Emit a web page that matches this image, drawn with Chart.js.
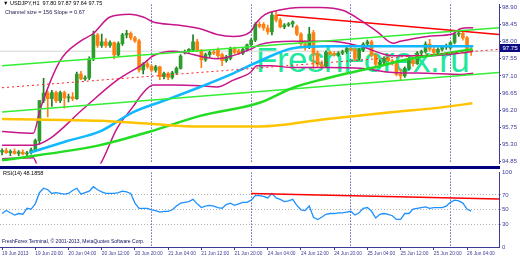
<!DOCTYPE html>
<html>
<head>
<meta charset="utf-8">
<script src="https://cdn.jsdelivr.net/npm/chart.js@4.4.0/dist/chart.umd.min.js"></script>
<style>
  html, body { margin: 0; padding: 0; background: #fff; }
  #wrap { position: relative; width: 520px; height: 260px; overflow: hidden; font-family: 'Liberation Sans', Arial, sans-serif; }
  canvas { position: absolute; left: 0; }
  #priceChart { top: 0; }
  #rsiChart { top: 168px; }
  .txt { position: absolute; white-space: nowrap; line-height: 1; color: #000; }
  #mark { position: absolute; left: 256px; top: 42px; font-size: 35px; color: #1de89c; white-space: nowrap; line-height: 1; letter-spacing: -0.5px; }
  #sep { position: absolute; left: 0; top: 166px; width: 500px; height: 3px; background: #00007f; }
  #pricebox { position: absolute; left: 500px; top: 44px; width: 20px; height: 8px; background: #0a0a80; color: #fff; font-size: 6px; line-height: 8px; text-align: center; }
</style>
</head>
<body>
<div id="wrap">
  <div id="mark">FreshForex.ru</div>
  <canvas id="priceChart" width="520" height="168"></canvas>
  <canvas id="rsiChart" width="520" height="92"></canvas>
  <div id="sep"></div>
  <div id="pricebox">97.75</div>
  <div class="txt" style="left:3px;top:1px;font-size:5.5px;">&#9660; USDJPY,H1&nbsp; 97.80 97.87 97.64 97.75</div>
  <div class="txt" style="left:5px;top:10px;font-size:5.5px;color:#202050;">Channel size = 156 Slope = 0.67</div>
  <div class="txt" style="left:3px;top:171px;font-size:5.5px;">RSI(14) 48.1858</div>
  <div class="txt" style="left:2px;top:239px;font-size:5px;color:#101060;">FreshForex Terminal, &copy; 2001-2013, MetaQuotes Software Corp.</div>
</div>
<script>
// H1 candles, bar 0 = 19 Jun 12:00
const opens = [95.10,95.14,95.08,95.12,95.06,95.10,95.05,95.08,95.16,95.40,
  96.45,96.65,96.50,96.66,96.45,96.66,96.52,96.55,96.50,97.15,
  97.02,97.05,97.55,98.18,97.90,98.00,97.90,97.98,97.65,97.95,
  98.18,98.22,98.10,98.02,97.26,97.42,97.35,97.25,97.34,97.08,
  97.16,97.06,97.18,97.30,97.72,97.75,97.78,98.00,97.76,97.52,
  97.66,97.72,97.80,97.66,97.50,97.56,97.82,97.76,97.70,97.80,
  97.92,98.04,98.46,98.46,98.36,98.26,98.70,98.57,98.39,98.44,
  98.47,98.40,98.20,97.94,97.86,98.24,97.70,97.40,97.36,97.72,
  97.68,97.66,97.70,97.74,97.82,97.80,97.56,97.78,97.94,98.00,
  97.64,97.40,97.46,97.56,97.50,97.42,97.14,97.10,97.30,97.52,
  97.42,97.70,97.74,97.94,97.80,97.72,97.80,97.86,97.84,97.98,
  98.20,98.22,98.10,97.80];
const highs = [95.18,95.20,95.16,95.18,95.14,95.16,95.12,95.20,95.44,96.45,
  97.04,96.70,96.72,96.70,96.70,96.70,96.62,96.66,97.20,97.22,
  97.10,97.60,98.28,98.22,98.20,98.08,98.02,98.00,98.00,98.22,
  98.30,98.26,98.14,98.06,97.45,97.48,97.40,97.38,97.36,97.20,
  97.20,97.22,97.34,97.66,97.78,97.82,98.18,98.06,97.80,97.70,
  97.76,97.80,97.84,97.70,97.64,97.86,97.86,97.80,97.84,97.94,
  98.08,98.50,98.52,98.50,98.44,98.77,98.80,98.62,98.48,98.50,
  98.55,98.44,98.24,98.02,98.38,98.30,97.76,97.50,97.76,97.76,
  97.74,97.74,97.78,97.86,97.86,97.84,97.82,97.98,98.04,98.04,
  97.70,97.52,97.60,97.66,97.54,97.46,97.28,97.34,97.58,97.58,
  97.74,97.78,98.00,98.06,97.86,97.84,97.90,97.94,98.00,98.24,
  98.30,98.26,98.14,97.87];
const lows = [95.02,95.06,95.00,95.04,95.00,95.02,94.98,95.04,95.12,95.30,
  96.40,96.02,96.30,96.40,96.40,96.25,96.42,96.45,96.48,97.00,
  96.98,97.00,97.50,97.85,97.85,97.85,97.85,97.55,97.62,97.90,
  98.10,98.05,97.98,97.20,97.15,97.30,97.20,97.20,97.00,97.02,
  97.00,97.02,97.14,97.28,97.68,97.72,97.74,97.74,97.32,97.48,
  97.60,97.66,97.58,97.37,97.46,97.52,97.68,97.66,97.66,97.76,
  97.88,98.00,98.36,98.30,98.20,98.18,98.52,98.36,98.34,98.40,
  98.38,98.16,97.83,97.78,97.82,97.30,97.34,97.30,97.32,97.64,
  97.62,97.62,97.66,97.70,97.76,97.50,97.52,97.74,97.86,97.60,
  97.34,97.34,97.42,97.46,97.38,97.10,96.98,97.06,97.26,97.36,
  97.40,97.64,97.70,97.76,97.68,97.68,97.76,97.80,97.80,97.94,
  98.14,98.04,97.80,97.64];
const closes = [95.14,95.08,95.12,95.06,95.10,95.05,95.08,95.16,95.40,96.45,
  96.65,96.50,96.66,96.45,96.66,96.52,96.55,96.50,97.15,97.02,
  97.05,97.55,98.18,97.90,98.00,97.90,97.98,97.65,97.95,98.18,
  98.22,98.10,98.02,97.26,97.42,97.35,97.25,97.34,97.08,97.16,
  97.06,97.18,97.30,97.62,97.75,97.80,98.00,97.76,97.52,97.66,
  97.72,97.70,97.63,97.50,97.60,97.82,97.72,97.70,97.80,97.92,
  98.04,98.46,98.40,98.36,98.26,98.70,98.57,98.39,98.44,98.47,
  98.52,98.20,97.94,97.84,98.20,97.70,97.40,97.36,97.72,97.68,
  97.66,97.70,97.74,97.82,97.80,97.56,97.78,97.94,98.00,97.64,
  97.40,97.46,97.56,97.50,97.42,97.14,97.10,97.30,97.52,97.42,
  97.70,97.74,97.94,97.80,97.72,97.80,97.86,97.90,97.98,98.20,
  98.22,98.10,97.82,97.75];

// RSI(14), one value per bar
const rsi = [45,49,46,43,45,44,52,51,58,73,79,77,72,73,72,71,72,76,79,71,
  73,75,81,77,74,72,72,72,73,75,74,72,59,52,52,52,50,49,47,48,
  48,50,55,59,60,61,64,58,53,55,56,55,53,52,57,59,56,58,60,60,
  63,69,69,68,66,72,66,64,61,62,64,56,50,49,55,40,37,40,44,45,
  45,46,46,47,48,43,46,52,53,48,39,44,45,44,42,37,37,45,45,51,
  52,53,54,52,53,53,53,55,60,63,62,59,51,48.19];

// indicator lines: [bar, price]
const bbUpper = [[0,95.64],[7.5,95.59],[9.2,96.23],[14,97.50],[18.8,98.01],[21.9,98.21],[26,98.65],[30.8,98.72],[34,98.65],[36.4,98.52],[42.2,98.44],[47.7,98.34],[51.8,98.19],[55.7,98.14],[59.8,98.26],[61.4,98.52],[63.4,98.72],[66.3,98.82],[71.8,98.90],[76.6,98.90],[82.2,98.82],[86.3,98.57],[90.4,98.26],[94.2,97.96],[95.9,98.01],[102.4,98.14],[108.7,98.21],[110.4,98.34],[113.5,98.37]];
const bbMiddle = [[0,95.28],[7.5,95.28],[11.6,95.46],[19.5,96.23],[27.7,96.99],[34,97.42],[36.4,97.63],[41.2,97.75],[51.8,97.55],[59.8,97.80],[62.2,97.93],[70.1,98.01],[79,98.01],[86.3,97.88],[94.2,97.63],[102.4,97.63],[110.4,97.70],[113.5,97.75]];
const bbLower = [[0,94.92],[7.5,94.95],[9.5,94.40],[16,93.90],[23.6,94.77],[27.7,95.72],[31.6,96.30],[34,96.66],[36.4,96.86],[41.2,96.86],[47.7,96.84],[51.8,96.81],[55.7,96.99],[59.8,97.19],[61.4,97.37],[64.6,97.37],[70.1,97.32],[78.3,97.32],[86.3,97.30],[94.2,97.19],[102.4,97.17],[110.4,97.14],[113.5,97.17]];
const maBlue = [[6.7,95.08],[15.7,95.39],[23.6,95.64],[31.6,96.15],[39.8,96.48],[47.7,96.81],[55.7,97.17],[62.2,97.50],[70.1,97.83],[78.3,97.88],[86.3,97.88],[102.4,97.88],[113.5,97.88]];
const maYellow = [[0,95.97],[23.6,95.92],[35.7,95.84],[47.7,95.77],[62.2,95.77],[78.3,95.97],[94.2,96.15],[106.3,96.28],[113.3,96.38]];
const maGreen = [[0,94.88],[23.6,95.28],[35.7,95.64],[47.7,96.05],[62.2,96.40],[70.1,96.79],[78.3,97.04],[88.7,97.30],[98.3,97.55],[107.2,97.70],[113.3,97.80]];
const channelTop = [[0,97.37],[119.8,98.37]];
const channelBottom = [[0,96.15],[119.8,97.19]];
const resistance = [[66.3,98.70],[119.8,98.19]];
const dottedLevel = [[0,96.79],[119.8,97.80]];
const lastPrice = [[-0.5,97.75],[119.8,97.75]];
const rsiTrend = [[60,72],[119.8,64.5]];

const priceTicks = [98.90, 98.45, 98.00, 97.55, 97.10, 96.65, 96.20, 95.75, 95.30, 94.85];
const rsiTicks = [100, 70, 50, 30, 0];
const separatorBars = [36, 60, 84, 108];
const timeTickBars = [0, 8, 16, 24, 32, 40, 48, 56, 64, 72, 80, 88, 96, 104, 112];
const timeLabels = ['19 Jun 2013', '19 Jun 20:00', '20 Jun 04:00', '20 Jun 12:00', '20 Jun 20:00',
  '21 Jun 04:00', '21 Jun 12:00', '21 Jun 20:00', '24 Jun 04:00', '24 Jun 12:00',
  '24 Jun 20:00', '25 Jun 04:00', '25 Jun 12:00', '25 Jun 20:00', '26 Jun 04:00'];

const axisColor = '#3c3c96';
const fontFamily = "'Liberation Sans', Arial, sans-serif";
const xMin = -0.5, xMax = 119.7;

const pts = arr => arr.map(p => ({x: p[0], y: p[1]}));
const candleColor = i => closes[i] >= opens[i] ? '#2c9c2c' : '#ff8010';
const wickColor = i => closes[i] >= opens[i] ? '#1f7a1f' : '#ff8010';

function lineSet(data, color, width, extra) {
    return Object.assign({
        type: 'line',
        data: pts(data),
        borderColor: color,
        borderWidth: width,
        pointRadius: 0,
        cubicInterpolationMode: 'monotone',
        fill: false,
        order: 1
    }, extra || {});
}

function separatorAxis() {
    return {
        type: 'linear', min: xMin, max: xMax, offset: false,
        afterFit: s => { s.height = 0; },
        afterBuildTicks: s => { s.ticks = separatorBars.map(v => ({value: v})); },
        ticks: { display: false },
        grid: { color: '#1a1a8a', lineWidth: 1, drawTicks: false, offset: false },
        border: { display: false, dash: [1, 2] }
    };
}

new Chart(document.getElementById('priceChart'), {
    type: 'line',
    data: {
        datasets: [
            {
                type: 'bar',
                data: highs.map((h, i) => ({x: i, y: [lows[i], h]})),
                backgroundColor: highs.map((h, i) => wickColor(i)),
                barThickness: 1,
                grouped: false,
                order: 20
            },
            {
                type: 'bar',
                data: opens.map((o, i) => ({x: i, y: [o, closes[i]]})),
                backgroundColor: opens.map((o, i) => candleColor(i)),
                barThickness: 3,
                minBarLength: 1,
                grouped: false,
                order: 19
            },
            lineSet(lastPrice, '#d4d4d4', 1, {order: 30}),
            lineSet(dottedLevel, '#ff2020', 1, {borderDash: [2, 3]}),
            lineSet(maYellow, '#ffc400', 2.5),
            lineSet(maGreen, '#22dd22', 2.5),
            lineSet(channelTop, '#33ee33', 1.5),
            lineSet(channelBottom, '#33ee33', 1.5),
            lineSet(maBlue, '#10b8ff', 2.5),
            lineSet(bbUpper, '#c8158a', 1.5),
            lineSet(bbMiddle, '#c8158a', 1.5),
            lineSet(bbLower, '#c8158a', 1.5),
            lineSet(resistance, '#ff0000', 1.5)
        ]
    },
    options: {
        responsive: false,
        animation: false,
        devicePixelRatio: 1,
        events: [],
        layout: { padding: {left: 0, right: 0, top: 2, bottom: 2} },
        plugins: { legend: {display: false}, tooltip: {enabled: false} },
        scales: {
            x: {
                type: 'linear', min: xMin, max: xMax, offset: false,
                afterFit: s => { s.height = 0; },
                ticks: { display: false },
                grid: { display: false, offset: false },
                border: { display: false }
            },
            xs: separatorAxis(),
            y: {
                position: 'right', min: 94.80, max: 98.976,
                afterFit: s => { s.width = 21; },
                afterBuildTicks: s => { s.ticks = priceTicks.map(v => ({value: v})); },
                grid: { drawOnChartArea: false, drawTicks: true, tickLength: 2, color: axisColor },
                border: { color: axisColor, width: 1 },
                ticks: {
                    color: axisColor, padding: 1, autoSkip: false,
                    font: {size: 6, family: fontFamily},
                    callback: v => v.toFixed(2)
                }
            }
        }
    }
});

new Chart(document.getElementById('rsiChart'), {
    type: 'line',
    data: {
        datasets: [
            lineSet(rsiTrend, '#ff0000', 1.5),
            {
                type: 'line',
                data: rsi.map((v, i) => ({x: i, y: v})),
                borderColor: '#1e90ff',
                borderWidth: 1.3,
                pointRadius: 0,
                tension: 0,
                order: 2
            }
        ]
    },
    options: {
        responsive: false,
        animation: false,
        devicePixelRatio: 1,
        events: [],
        layout: { padding: {left: 0, right: 0, top: 4, bottom: 0} },
        plugins: { legend: {display: false}, tooltip: {enabled: false} },
        scales: {
            x: {
                type: 'linear', min: xMin, max: xMax, offset: false,
                afterFit: s => { s.height = 13; },
                afterBuildTicks: s => { s.ticks = timeTickBars.map(v => ({value: v})); },
                grid: { drawOnChartArea: false, drawTicks: true, tickLength: 3, color: axisColor, offset: false },
                border: { color: axisColor, width: 1 },
                ticks: {
                    color: axisColor, padding: 1, autoSkip: false, maxRotation: 0, align: 'start',
                    font: {size: 4.8, family: fontFamily},
                    callback: v => timeLabels[timeTickBars.indexOf(v)]
                }
            },
            xs: separatorAxis(),
            y: {
                position: 'right', min: 0, max: 100,
                afterFit: s => { s.width = 21; },
                afterBuildTicks: s => { s.ticks = rsiTicks.map(v => ({value: v})); },
                grid: {
                    drawTicks: true, tickLength: 2,
                    color: c => (c.tick && c.tick.value > 0 && c.tick.value < 100) ? '#b4b4b4' : 'rgba(0,0,0,0)'
                },
                border: { color: axisColor, width: 1, dash: [1, 2] },
                ticks: {
                    color: axisColor, padding: 1, autoSkip: false,
                    font: {size: 6, family: fontFamily}
                }
            }
        }
    }
});
</script>
</body>
</html>
